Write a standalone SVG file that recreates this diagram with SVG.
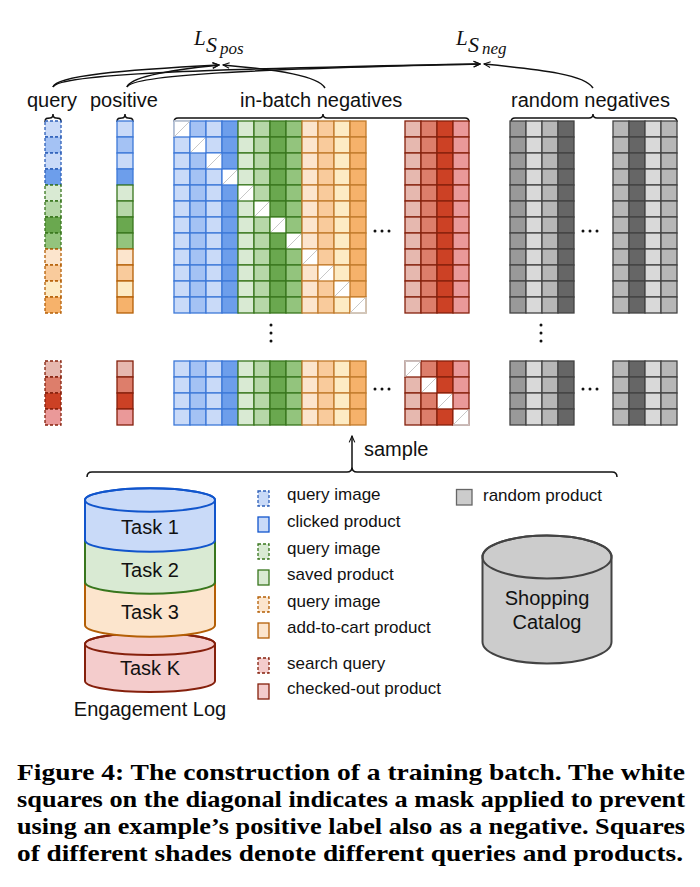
<svg xmlns="http://www.w3.org/2000/svg" xmlns:xlink="http://www.w3.org/1999/xlink" width="700" height="887" viewBox="0 0 700 887">
<style>
.t{font-family:"Liberation Sans",Arial,sans-serif;font-size:20px;fill:#111}
.lg{font-family:"Liberation Sans",Arial,sans-serif;font-size:17px;fill:#111}
.m{font-family:"Liberation Serif","Times New Roman",serif;font-style:italic;fill:#111}
.cap{font-family:"Liberation Serif","Times New Roman",serif;font-weight:bold;font-size:23px;fill:#000}
.ln{fill:none;stroke:#111;stroke-width:1.5}
.dot{fill:#111}
.wc{fill:#fff}
.dg{stroke:#c8c8c8;stroke-width:1}
.gc{fill:none;stroke:#cfcfcf;stroke-width:1.3}
</style>
<defs>
<marker id="arr" viewBox="0 0 10 10" refX="9" refY="5" markerWidth="8" markerHeight="8" markerUnits="userSpaceOnUse" orient="auto">
<path d="M1,1.5 L9,5 L1,8.5" fill="none" stroke="#111" stroke-width="1.4"/>
</marker>
<g id="c12">
<rect x="0" y="0" width="16" height="16"/><rect x="0" y="16" width="16" height="16"/><rect x="0" y="32" width="16" height="16"/><rect x="0" y="48" width="16" height="16"/>
<rect x="0" y="64" width="16" height="16"/><rect x="0" y="80" width="16" height="16"/><rect x="0" y="96" width="16" height="16"/><rect x="0" y="112" width="16" height="16"/>
<rect x="0" y="128" width="16" height="16"/><rect x="0" y="144" width="16" height="16"/><rect x="0" y="160" width="16" height="16"/><rect x="0" y="176" width="16" height="16"/>
</g>
<g id="c4">
<rect x="0" y="0" width="16" height="16"/><rect x="0" y="16" width="16" height="16"/><rect x="0" y="32" width="16" height="16"/><rect x="0" y="48" width="16" height="16"/>
</g>
</defs>
<rect width="700" height="887" fill="#fff"/>

<g id="loss-pos"><text class="m" x="194" y="45" font-size="21">L<tspan x="206" y="52" font-size="22">S</tspan><tspan x="220" y="54" font-size="17">pos</tspan></text></g>
<g id="loss-neg"><text class="m" x="456" y="45" font-size="21">L<tspan x="468" y="52" font-size="22">S</tspan><tspan x="482" y="54" font-size="17">neg</tspan></text></g>

<g id="labels">
<text class="t" x="27" y="107">query</text>
<text class="t" x="90" y="107">positive</text>
<text class="t" x="240" y="107">in-batch negatives</text>
<text class="t" x="511" y="107">random negatives</text>
</g>

<g id="connectors">
<path class="ln" d="M53,87 C56,76 120,70 219,65" marker-end="url(#arr)"/>
<path class="ln" d="M53,87 C58,74 200,69 480,64" marker-end="url(#arr)"/>
<path class="ln" d="M127,87 C130,77 170,70 219,65" marker-end="url(#arr)"/>
<path class="ln" d="M127,87 C132,75 250,69 480,64" marker-end="url(#arr)"/>
<path class="ln" d="M325,88 C318,76 280,70 223,65" marker-end="url(#arr)"/>
<path class="ln" d="M593,88 C585,75 545,70 484,64" marker-end="url(#arr)"/>
<path class="ln" d="M45,122 C45,118 47,118 50,118 Q53,118 53,114 Q53,118 56,118 C59,118 61,118 61,122"/>
<path class="ln" d="M117,122 C117,118 119,118 122,118 Q125,118 125,114 Q125,118 128,118 C131,118 133,118 133,122"/>
<path class="ln" d="M174,122 Q174,118 178,118 L319,118 Q323,118 323,114 Q323,118 327,118 L465,118 Q469,118 469,122"/>
<path class="ln" d="M511,122 Q511,118 515,118 L589,118 Q593,118 593,114 Q593,118 597,118 L673,118 Q677,118 677,122"/>
<path class="ln" d="M87,477 Q87,472 92,472 L347,472 Q352,472 352,467 Q352,472 357,472 L612,472 Q617,472 617,477"/>
<path class="ln" d="M352,467 L352,436" marker-end="url(#arr)"/>
</g>
<text class="t" x="364" y="456">sample</text>

<g id="query-column" stroke-width="1.3" stroke-dasharray="3,2">
<g stroke="#2d5fb8">
<rect x="45" y="121" width="16" height="16" fill="#c9daf8"/><rect x="45" y="137" width="16" height="16" fill="#a4c2f4"/><rect x="45" y="153" width="16" height="16" fill="#c9daf8"/><rect x="45" y="169" width="16" height="16" fill="#6d9eeb"/>
</g>
<g stroke="#38761d">
<rect x="45" y="185" width="16" height="16" fill="#d9ead3"/><rect x="45" y="201" width="16" height="16" fill="#b6d7a8"/><rect x="45" y="217" width="16" height="16" fill="#6aa84f"/><rect x="45" y="233" width="16" height="16" fill="#93c47d"/>
</g>
<g stroke="#b45f06">
<rect x="45" y="249" width="16" height="16" fill="#fce5cd"/><rect x="45" y="265" width="16" height="16" fill="#f9cb9c"/><rect x="45" y="281" width="16" height="16" fill="#fdebc4"/><rect x="45" y="297" width="16" height="16" fill="#f6b26b"/>
</g>
<g stroke="#85200c">
<rect x="45" y="361" width="16" height="16" fill="#e6b8af"/><rect x="45" y="377" width="16" height="16" fill="#dd7e6b"/><rect x="45" y="393" width="16" height="16" fill="#cc4125"/><rect x="45" y="409" width="16" height="16" fill="#ea9999"/>
</g>
</g>

<g id="positive-column" stroke-width="1.3">
<g stroke="#3c78d8">
<rect x="117" y="121" width="16" height="16" fill="#c9daf8"/><rect x="117" y="137" width="16" height="16" fill="#a4c2f4"/><rect x="117" y="153" width="16" height="16" fill="#c9daf8"/><rect x="117" y="169" width="16" height="16" fill="#6d9eeb"/>
</g>
<g stroke="#38761d">
<rect x="117" y="185" width="16" height="16" fill="#d9ead3"/><rect x="117" y="201" width="16" height="16" fill="#b6d7a8"/><rect x="117" y="217" width="16" height="16" fill="#6aa84f"/><rect x="117" y="233" width="16" height="16" fill="#93c47d"/>
</g>
<g stroke="#b45f06">
<rect x="117" y="249" width="16" height="16" fill="#fce5cd"/><rect x="117" y="265" width="16" height="16" fill="#f9cb9c"/><rect x="117" y="281" width="16" height="16" fill="#fdebc4"/><rect x="117" y="297" width="16" height="16" fill="#f6b26b"/>
</g>
<g stroke="#85200c">
<rect x="117" y="361" width="16" height="16" fill="#e6b8af"/><rect x="117" y="377" width="16" height="16" fill="#dd7e6b"/><rect x="117" y="393" width="16" height="16" fill="#cc4125"/><rect x="117" y="409" width="16" height="16" fill="#ea9999"/>
</g>
</g>

<g id="in-batch-negatives" stroke-width="1.3">
<use xlink:href="#c12" x="174" y="121" fill="#c9daf8" stroke="#3c78d8"/>
<use xlink:href="#c12" x="190" y="121" fill="#a4c2f4" stroke="#3c78d8"/>
<use xlink:href="#c12" x="206" y="121" fill="#c9daf8" stroke="#3c78d8"/>
<use xlink:href="#c12" x="222" y="121" fill="#6d9eeb" stroke="#3c78d8"/>
<use xlink:href="#c12" x="238" y="121" fill="#d9ead3" stroke="#38761d"/>
<use xlink:href="#c12" x="254" y="121" fill="#b6d7a8" stroke="#38761d"/>
<use xlink:href="#c12" x="270" y="121" fill="#6aa84f" stroke="#38761d"/>
<use xlink:href="#c12" x="286" y="121" fill="#93c47d" stroke="#38761d"/>
<use xlink:href="#c12" x="302" y="121" fill="#fce5cd" stroke="#c07a2c"/>
<use xlink:href="#c12" x="318" y="121" fill="#f9cb9c" stroke="#c07a2c"/>
<use xlink:href="#c12" x="334" y="121" fill="#fdebc4" stroke="#c07a2c"/>
<use xlink:href="#c12" x="350" y="121" fill="#f6b26b" stroke="#c07a2c"/>
<use xlink:href="#c4" x="174" y="361" fill="#c9daf8" stroke="#3c78d8"/>
<use xlink:href="#c4" x="190" y="361" fill="#a4c2f4" stroke="#3c78d8"/>
<use xlink:href="#c4" x="206" y="361" fill="#c9daf8" stroke="#3c78d8"/>
<use xlink:href="#c4" x="222" y="361" fill="#6d9eeb" stroke="#3c78d8"/>
<use xlink:href="#c4" x="238" y="361" fill="#d9ead3" stroke="#38761d"/>
<use xlink:href="#c4" x="254" y="361" fill="#b6d7a8" stroke="#38761d"/>
<use xlink:href="#c4" x="270" y="361" fill="#6aa84f" stroke="#38761d"/>
<use xlink:href="#c4" x="286" y="361" fill="#93c47d" stroke="#38761d"/>
<use xlink:href="#c4" x="302" y="361" fill="#fce5cd" stroke="#c07a2c"/>
<use xlink:href="#c4" x="318" y="361" fill="#f9cb9c" stroke="#c07a2c"/>
<use xlink:href="#c4" x="334" y="361" fill="#fdebc4" stroke="#c07a2c"/>
<use xlink:href="#c4" x="350" y="361" fill="#f6b26b" stroke="#c07a2c"/>
<g class="wc">
<rect x="174.7" y="121.7" width="14.6" height="14.6"/><rect x="190.7" y="137.7" width="14.6" height="14.6"/><rect x="206.7" y="153.7" width="14.6" height="14.6"/><rect x="222.7" y="169.7" width="14.6" height="14.6"/>
<rect x="238.7" y="185.7" width="14.6" height="14.6"/><rect x="254.7" y="201.7" width="14.6" height="14.6"/><rect x="270.7" y="217.7" width="14.6" height="14.6"/><rect x="286.7" y="233.7" width="14.6" height="14.6"/>
<rect x="302.7" y="249.7" width="14.6" height="14.6"/><rect x="318.7" y="265.7" width="14.6" height="14.6"/><rect x="334.7" y="281.7" width="14.6" height="14.6"/><rect x="350.7" y="297.7" width="14.6" height="14.6"/>
</g>
<g class="dg">
<line x1="175" y1="136" x2="189" y2="122"/><line x1="191" y1="152" x2="205" y2="138"/><line x1="207" y1="168" x2="221" y2="154"/><line x1="223" y1="184" x2="237" y2="170"/>
<line x1="239" y1="200" x2="253" y2="186"/><line x1="255" y1="216" x2="269" y2="202"/><line x1="271" y1="232" x2="285" y2="218"/><line x1="287" y1="248" x2="301" y2="234"/>
<line x1="303" y1="264" x2="317" y2="250"/><line x1="319" y1="280" x2="333" y2="266"/><line x1="335" y1="296" x2="349" y2="282"/><line x1="351" y1="312" x2="365" y2="298"/>
</g>
<path class="gc" d="M174,137 L174,121 L190,121"/>
<path class="gc" d="M350,313 L366,313 L366,297"/>
</g>

<g id="in-batch-more" stroke-width="1.3">
<use xlink:href="#c12" x="405" y="121" fill="#e6b8af" stroke="#85200c"/>
<use xlink:href="#c12" x="421" y="121" fill="#dd7e6b" stroke="#85200c"/>
<use xlink:href="#c12" x="437" y="121" fill="#cc4125" stroke="#85200c"/>
<use xlink:href="#c12" x="453" y="121" fill="#ea9999" stroke="#85200c"/>
<use xlink:href="#c4" x="405" y="361" fill="#e6b8af" stroke="#85200c"/>
<use xlink:href="#c4" x="421" y="361" fill="#dd7e6b" stroke="#85200c"/>
<use xlink:href="#c4" x="437" y="361" fill="#cc4125" stroke="#85200c"/>
<use xlink:href="#c4" x="453" y="361" fill="#ea9999" stroke="#85200c"/>
<g class="wc">
<rect x="405.7" y="361.7" width="14.6" height="14.6"/><rect x="421.7" y="377.7" width="14.6" height="14.6"/><rect x="437.7" y="393.7" width="14.6" height="14.6"/><rect x="453.7" y="409.7" width="14.6" height="14.6"/>
</g>
<g class="dg">
<line x1="406" y1="376" x2="420" y2="362"/><line x1="422" y1="392" x2="436" y2="378"/><line x1="438" y1="408" x2="452" y2="394"/><line x1="454" y1="424" x2="468" y2="410"/>
</g>
<path class="gc" d="M405,377 L405,361 L421,361"/>
<path class="gc" d="M453,425 L469,425 L469,409"/>
</g>

<g id="random-negatives" stroke-width="1.3" stroke="#434343">
<use xlink:href="#c12" x="510" y="121" fill="#999999"/>
<use xlink:href="#c12" x="526" y="121" fill="#d9d9d9"/>
<use xlink:href="#c12" x="542" y="121" fill="#b7b7b7"/>
<use xlink:href="#c12" x="558" y="121" fill="#666666"/>
<use xlink:href="#c12" x="613" y="121" fill="#b7b7b7"/>
<use xlink:href="#c12" x="629" y="121" fill="#666666"/>
<use xlink:href="#c12" x="645" y="121" fill="#d9d9d9"/>
<use xlink:href="#c12" x="661" y="121" fill="#b7b7b7"/>
<use xlink:href="#c4" x="510" y="361" fill="#999999"/>
<use xlink:href="#c4" x="526" y="361" fill="#d9d9d9"/>
<use xlink:href="#c4" x="542" y="361" fill="#b7b7b7"/>
<use xlink:href="#c4" x="558" y="361" fill="#666666"/>
<use xlink:href="#c4" x="613" y="361" fill="#b7b7b7"/>
<use xlink:href="#c4" x="629" y="361" fill="#666666"/>
<use xlink:href="#c4" x="645" y="361" fill="#d9d9d9"/>
<use xlink:href="#c4" x="661" y="361" fill="#b7b7b7"/>
</g>

<g id="ellipses">
<circle class="dot" cx="375" cy="231" r="1.5"/><circle class="dot" cx="382" cy="231" r="1.5"/><circle class="dot" cx="389" cy="231" r="1.5"/>
<circle class="dot" cx="583" cy="231" r="1.5"/><circle class="dot" cx="590" cy="231" r="1.5"/><circle class="dot" cx="597" cy="231" r="1.5"/>
<circle class="dot" cx="375" cy="389" r="1.5"/><circle class="dot" cx="382" cy="389" r="1.5"/><circle class="dot" cx="389" cy="389" r="1.5"/>
<circle class="dot" cx="583" cy="389" r="1.5"/><circle class="dot" cx="590" cy="389" r="1.5"/><circle class="dot" cx="597" cy="389" r="1.5"/>
<circle class="dot" cx="271" cy="325" r="1.5"/><circle class="dot" cx="271" cy="333" r="1.5"/><circle class="dot" cx="271" cy="341" r="1.5"/>
<circle class="dot" cx="541" cy="325" r="1.5"/><circle class="dot" cx="541" cy="333" r="1.5"/><circle class="dot" cx="541" cy="341" r="1.5"/>
</g>

<g id="engagement-log" stroke-width="2">
<path d="M85,644 L85,681 A65,11 0 0 0 215,681 L215,644 A65,11 0 0 0 85,644 Z" fill="#f4cccc" stroke="#85200c"/>
<ellipse cx="150" cy="644" rx="65" ry="11" fill="none" stroke="#85200c"/>
<path d="M85,582 L85,625 A65,11.7 0 0 0 215,625 L215,582" fill="#fce5cd" stroke="#b45f06"/>
<path d="M85,540 L85,582 A65,11.7 0 0 0 215,582 L215,540" fill="#d9ead3" stroke="#38761d"/>
<path d="M85,500 L85,540 A65,11.7 0 0 0 215,540 L215,500 A65,11.7 0 0 0 85,500 Z" fill="#c9daf8" stroke="#1155cc"/>
<ellipse cx="150" cy="500" rx="65" ry="11.7" fill="none" stroke="#1155cc"/>
<text class="t" x="150" y="534" text-anchor="middle" stroke="none">Task 1</text>
<text class="t" x="150" y="577" text-anchor="middle" stroke="none">Task 2</text>
<text class="t" x="150" y="619" text-anchor="middle" stroke="none">Task 3</text>
<text class="t" x="150" y="675" text-anchor="middle" stroke="none">Task K</text>
<text class="t" x="150" y="716" text-anchor="middle" stroke="none">Engagement Log</text>
</g>

<g id="shopping-catalog" stroke-width="2">
<path d="M482.5,557 L482.5,642 A64.5,21.5 0 0 0 611.5,642 L611.5,557 A64.5,21.5 0 0 0 482.5,557 Z" fill="#cccccc" stroke="#434343"/>
<ellipse cx="547" cy="557" rx="64.5" ry="21.5" fill="none" stroke="#434343"/>
<text class="t" x="547" y="605" text-anchor="middle" stroke="none">Shopping</text>
<text class="t" x="547" y="629" text-anchor="middle" stroke="none">Catalog</text>
</g>

<g id="legend" stroke-width="1.3">
<rect x="258" y="491" width="11" height="15" fill="#c9daf8" stroke="#2d5fb8" stroke-dasharray="3,2"/>
<rect x="258" y="517" width="11" height="15" fill="#c9daf8" stroke="#1155cc"/>
<rect x="258" y="544" width="11" height="15" fill="#d9ead3" stroke="#38761d" stroke-dasharray="3,2"/>
<rect x="258" y="570" width="11" height="15" fill="#d9ead3" stroke="#38761d"/>
<rect x="258" y="597" width="11" height="15" fill="#fce5cd" stroke="#b45f06" stroke-dasharray="3,2"/>
<rect x="258" y="623" width="11" height="15" fill="#fce5cd" stroke="#b45f06"/>
<rect x="258" y="658" width="11" height="15" fill="#f4cccc" stroke="#85200c" stroke-dasharray="3,2"/>
<rect x="258" y="684" width="11" height="15" fill="#f4cccc" stroke="#85200c"/>
<rect x="456.5" y="489.5" width="15.5" height="15.5" fill="#cccccc" stroke="#666666"/>
<text class="lg" x="287" y="500">query image</text>
<text class="lg" x="287" y="527">clicked product</text>
<text class="lg" x="287" y="554">query image</text>
<text class="lg" x="287" y="580">saved product</text>
<text class="lg" x="287" y="607">query image</text>
<text class="lg" x="287" y="633">add-to-cart product</text>
<text class="lg" x="287" y="669">search query</text>
<text class="lg" x="287" y="694">checked-out product</text>
<text class="lg" x="483" y="501">random product</text>
</g>

<g id="caption">
<text class="cap" x="17" y="780" textLength="668" lengthAdjust="spacingAndGlyphs">Figure 4: The construction of a training batch. The white</text>
<text class="cap" x="17" y="807" textLength="668" lengthAdjust="spacingAndGlyphs">squares on the diagonal indicates a mask applied to prevent</text>
<text class="cap" x="17" y="834" textLength="668" lengthAdjust="spacingAndGlyphs">using an example’s positive label also as a negative. Squares</text>
<text class="cap" x="17" y="861" textLength="666" lengthAdjust="spacingAndGlyphs">of different shades denote different queries and products.</text>
</g>
</svg>
